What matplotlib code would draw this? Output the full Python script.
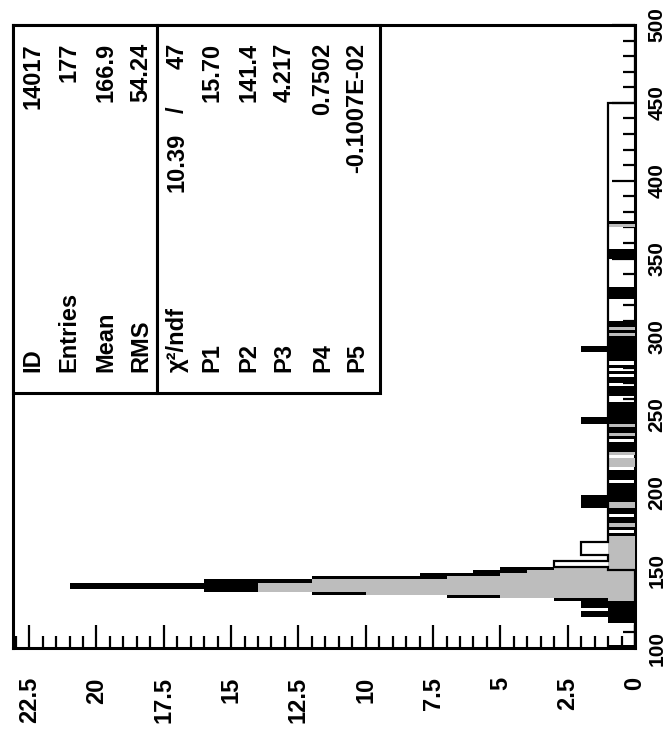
"""
Rotated ROOT-style histogram with fit statistics box (page turned 90 deg).
"""
import numpy as np
import matplotlib
matplotlib.use("Agg")
import matplotlib.pyplot as plt
from matplotlib.patches import Rectangle
from matplotlib.ticker import MultipleLocator, FixedLocator

W, H = 669, 738
FONT = ['Liberation Sans', 'DejaVu Sans']

# ---------------------------------------------------------------------------
# Data (bin width 2, 100 -> 500), one row = 20 units
# ---------------------------------------------------------------------------
bin_lo, bin_hi, bin_w = 100, 500, 2

all_counts = [
    1, 0, 0, 0, 0, 0, 0, 0, 1, 1,          # 100
    2, 2, 1, 2, 2, 3, 7, 12, 16, 21,       # 120
    21, 16, 12, 8, 6, 5, 1, 1, 1, 1,       # 140
    1, 1, 1, 1, 1, 1, 1, 0, 1, 1,          # 160
    1, 1, 0, 1, 1, 2, 2, 2, 2, 1,          # 180
    1, 1, 1, 0, 1, 1, 1, 0, 1, 1,          # 200
    1, 0, 1, 1, 1, 1, 0, 1, 1, 1,          # 220
    1, 1, 2, 2, 1, 1, 1, 1, 1, 0,          # 240
    0, 1, 1, 1, 0, 1, 1, 0, 1, 0,          # 260
    1, 0, 1, 1, 1, 2, 2, 1, 1, 1,          # 280
    1, 1, 1, 1, 1, 0, 0, 0, 0, 0,          # 300
    0, 0, 1, 1, 1, 1, 0, 0, 0, 0,          # 320
    0, 0, 0, 0, 0, 1, 1, 1, 0, 0,          # 340
    0, 0, 0, 0, 0, 1, 1, 0, 0, 0,          # 360
    0, 0, 0, 0, 0, 0, 0, 0, 0, 0,          # 380
    0, 0, 0, 0, 0, 0, 0, 0, 0, 0,          # 400
    0, 0, 0, 0, 0, 0, 0, 0, 0, 0,          # 420
    0, 0, 0, 0, 0, 0, 0, 0, 0, 0,          # 440
    0, 0, 0, 0, 0, 0, 0, 0, 0, 0,          # 460
    0, 0, 0, 0, 0, 0, 0, 0, 0, 0,          # 480
]

sel_counts = [
    0, 0, 0, 0, 0, 0, 0, 0, 0, 0,          # 100
    0, 0, 0, 0, 0, 1, 5, 10, 14, 14,       # 120
    14, 12, 7, 5, 4, 3, 1, 1, 1, 1,        # 140
    1, 1, 1, 1, 1, 1, 0, 0, 0, 1,          # 160
    0, 0, 0, 0, 0, 1, 1, 0, 0, 0,          # 180
    0, 0, 0, 0, 0, 0, 0, 0, 1, 1,          # 200
    1, 0, 1, 0, 0, 0, 0, 0, 1, 0,          # 220
    0, 1, 0, 0, 0, 0, 0, 0, 0, 0,          # 240
    0, 0, 0, 0, 0, 0, 0, 0, 0, 0,          # 260
    0, 0, 0, 0, 0, 0, 0, 0, 0, 0,          # 280
    1, 0, 1, 0, 0, 0, 0, 0, 0, 0,          # 300
    0, 0, 0, 0, 0, 0, 0, 0, 0, 0,          # 320
    0, 0, 0, 0, 0, 0, 0, 0, 0, 0,          # 340
    0, 0, 0, 0, 0, 1, 0, 0, 0, 0,          # 360
    0, 0, 0, 0, 0, 0, 0, 0, 0, 0,          # 380
    0, 0, 0, 0, 0, 0, 0, 0, 0, 0,          # 400
    0, 0, 0, 0, 0, 0, 0, 0, 0, 0,          # 420
    0, 0, 0, 0, 0, 0, 0, 0, 0, 0,          # 440
    0, 0, 0, 0, 0, 0, 0, 0, 0, 0,          # 460
    0, 0, 0, 0, 0, 0, 0, 0, 0, 0,          # 480
]

ref_counts = [
    0, 0, 0, 0, 0, 0, 0, 0, 0, 0,          # 100
    0, 0, 0, 0, 0, 0, 0, 0, 0, 0,          # 120
    0, 0, 0, 0, 0, 1, 3, 3, 1, 1,          # 140
    2, 2, 2, 2, 1, 1, 1, 1, 1, 1,          # 160
    1, 1, 1, 1, 1, 1, 1, 1, 1, 1,          # 180
    1, 1, 1, 1, 1, 1, 1, 1, 1, 1,          # 200
    1, 1, 1, 1, 1, 1, 1, 1, 1, 1,          # 220
    1, 1, 1, 1, 1, 1, 1, 1, 1, 1,          # 240
    1, 1, 1, 1, 1, 1, 1, 1, 1, 1,          # 260
    1, 1, 1, 1, 1, 1, 1, 1, 1, 1,          # 280
    1, 1, 1, 1, 1, 1, 1, 1, 1, 1,          # 300
    1, 1, 1, 1, 1, 1, 1, 1, 1, 1,          # 320
    1, 1, 1, 1, 1, 1, 1, 1, 1, 1,          # 340
    1, 1, 1, 1, 1, 1, 1, 1, 1, 1,          # 360
    1, 1, 1, 1, 1, 1, 1, 1, 1, 1,          # 380
    1, 1, 1, 1, 1, 1, 1, 1, 1, 1,          # 400
    1, 1, 1, 1, 1, 1, 1, 1, 1, 1,          # 420
    1, 1, 1, 1, 1, 0, 0, 0, 0, 0,          # 440
    0, 0, 0, 0, 0, 0, 0, 0, 0, 0,          # 460
    0, 0, 0, 0, 0, 0, 0, 0, 0, 0,          # 480
]

count_max = 23.1
count_ticks = [0, 2.5, 5, 7.5, 10, 12.5, 15, 17.5, 20, 22.5]
count_labels = ['0', '2.5', '5', '7.5', '10', '12.5', '15', '17.5', '20', '22.5']
var_ticks = [100, 150, 200, 250, 300, 350, 400, 450, 500]

stat_names = ['ID', 'Entries', 'Mean', 'RMS']
stat_values = ['14017', '177', '166.9', '54.24']
chi2_name, chi2_value, ndf_value = '\u03c7\u00b2/ndf', '10.39', '47'
par_names = ['P1', 'P2', 'P3', 'P4', 'P5']
par_values = ['15.70', '141.4', '4.217', '0.7502', '-0.1007E-02']


def fx(px):
    return px / W


def fy(py):
    return 1 - py / H


fig = plt.figure(figsize=(W / 100, H / 100), dpi=100)
# frame: x 13..635 px, y 25..648 px
ax = fig.add_axes([fx(13), fy(648), fx(635) - fx(13), fy(25) - fy(648)])

edges = np.arange(bin_lo, bin_hi + bin_w, bin_w)
ax.stairs(all_counts, edges, orientation='horizontal', fill=True,
          color='black', zorder=2)
ax.stairs(sel_counts, edges, orientation='horizontal', fill=True,
          color='#bdbdbd', zorder=3)
ax.stairs(ref_counts, edges, orientation='horizontal', fill=False,
          color='black', lw=1.6, baseline=0, zorder=4)

ax.set_xlim(count_max, 0)
ax.set_ylim(bin_lo, bin_hi)

for s in ax.spines.values():
    s.set_linewidth(2.2)
    s.set_color('black')

ax.xaxis.set_major_locator(FixedLocator(count_ticks))
ax.xaxis.set_minor_locator(MultipleLocator(0.5))
ax.set_xticklabels(count_labels)
ax.yaxis.set_major_locator(FixedLocator(var_ticks))
ax.yaxis.set_minor_locator(MultipleLocator(10))
ax.yaxis.tick_right()

ax.tick_params(axis='both', which='major', direction='in', length=16.5,
               width=1.6, color='black')
ax.tick_params(axis='both', which='minor', direction='in', length=8.6,
               width=1.6, color='black')
ax.tick_params(axis='x', which='both', top=False, bottom=True, pad=21)
ax.tick_params(axis='y', which='both', left=False, right=True, pad=9)

for lab in ax.get_xticklabels():
    lab.set_rotation(90)
    lab.set_va('top')
    lab.set_ha('center')
    lab.set_family(FONT)
    lab.set_fontweight('bold')
    lab.set_fontsize(17)
for lab in ax.get_yticklabels():
    lab.set_rotation(90)
    lab.set_va('center')
    lab.set_ha('left')
    lab.set_family(FONT)
    lab.set_fontweight('bold')
    lab.set_fontsize(15)

# ---- statistics box (top-left in the turned page) ----
for x0, x1 in ((13, 157), (157, 380)):
    fig.add_artist(Rectangle((fx(x0), fy(393)), fx(x1) - fx(x0), fy(25) - fy(393),
                             transform=fig.transFigure, facecolor='white',
                             edgecolor='black', lw=2.2, zorder=5))

txt = dict(rotation=90, ha='center', family=FONT, fontweight='bold',
           fontsize=17, zorder=6)

stat_x = [33, 69, 106, 141]
for xc, nm, val in zip(stat_x, stat_names, stat_values):
    fig.text(fx(xc), fy(372), nm, va='bottom', **txt)
    fig.text(fx(xc), fy(43), val, va='top', **txt)

# chi2 / ndf row
chi_x = 177
fig.text(fx(chi_x), fy(372), chi2_name, va='bottom', **txt)
fig.text(fx(chi_x), fy(43), ndf_value, va='top', **txt)
fig.text(fx(chi_x), fy(110), '/', va='center', **txt)
fig.text(fx(chi_x), fy(133), chi2_value, va='top', **txt)

par_x = [212, 249, 284, 323, 357]
for xc, nm, val in zip(par_x, par_names, par_values):
    fig.text(fx(xc), fy(372), nm, va='bottom', **txt)
    fig.text(fx(xc), fy(43), val, va='top', **txt)

fig.savefig("out.png", dpi=100)
